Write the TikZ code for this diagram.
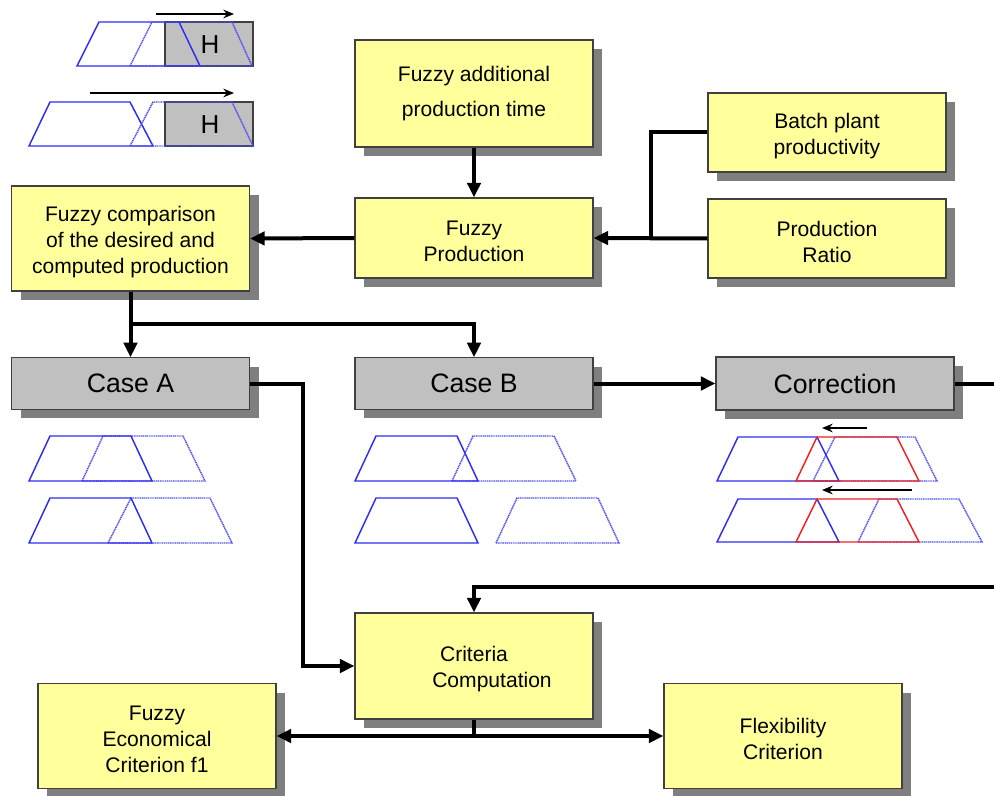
\documentclass[tikz,border=0pt]{standalone}
\usepackage{fontspec}
\setmainfont{Liberation Sans}
\usetikzlibrary{arrows.meta,shadows}
\definecolor{boxyellow}{HTML}{FFFF9C}
\definecolor{boxgray}{HTML}{C0C0C0}
\definecolor{shadowgray}{HTML}{7F7F7F}
\definecolor{edgegray}{HTML}{404040}
\definecolor{tblue}{HTML}{2E2EF0}
\definecolor{tbluedot}{HTML}{4D4DF5}
\definecolor{tred}{HTML}{F02020}
\newcommand{\lowerstrut}{\rule{0pt}{16.5pt}}
\tikzset{
  basebox/.style={rectangle, draw=edgegray, line width=0.8pt, inner sep=0pt,
    minimum width=178.5pt, align=center,
    drop shadow={shadow xshift=6.75pt, shadow yshift=-6.75pt, fill=shadowgray, opacity=1}},
  ybox/.style={basebox, fill=boxyellow, font=\fontsize{15.8}{19.5}\selectfont},
  gbox/.style={basebox, fill=boxgray, minimum height=38.5pt, font=\fontsize{20}{24}\selectfont},
  line/.style={line width=3pt, line join=miter, draw=black},
  conn/.style={line, -{Triangle[length=11pt,width=10pt]}},
  smallarrow/.style={line width=1.5pt, -{Stealth[length=8pt,width=6.5pt]}},
  solidb/.style={draw=tblue, line width=1.1pt, line join=miter},
  dotb/.style={draw=tbluedot, line width=1.1pt, dash pattern=on 0.9pt off 0.5pt},
  solidr/.style={draw=tred, line width=1.1pt, line join=miter},
  hbox/.style={fill=boxgray, draw=edgegray, line width=0.8pt},
}
\begin{document}
\begin{tikzpicture}[x=0.75pt,y=-0.75pt]
\useasboundingbox (0,0) rectangle (994,795);

% ---- boxes ----
\node[ybox, minimum height=80.25pt, font=\fontsize{15.8}{26}\selectfont] (fat) at (474,93.5) {Fuzzy additional\\production time};
\node[ybox, minimum height=60pt] (fp) at (474,238) {\lowerstrut Fuzzy\\Production};
\node[ybox, minimum height=59.25pt] (bpp) at (827,132.5) {\lowerstrut Batch plant\\productivity};
\node[ybox, minimum height=59.25pt] (pr) at (827,238.5) {\lowerstrut Production\\Ratio};
\node[ybox, minimum height=78.75pt] (cmp) at (130.5,238.5) {\lowerstrut Fuzzy comparison\\of the desired and\\computed production};
\node[gbox] (caseA) at (130.5,383.5) {Case A};
\node[gbox] (caseB) at (474,383.5) {Case B};
\node[gbox, minimum height=39.75pt] (corr) at (835,383.5) {Correction};
\node[ybox, minimum height=79.5pt] (crit) at (474,666) {\lowerstrut Criteria\\\hspace*{27pt}Computation};
\node[ybox, minimum height=78.75pt] (fec) at (157,736) {\lowerstrut Fuzzy\\Economical\\Criterion f1};
\node[ybox, minimum height=78.75pt] (flex) at (783,736) {\lowerstrut Flexibility\\Criterion};

% ---- connectors ----
\coordinate (j1) at (651,238.5);
\coordinate (j2) at (130.5,324);
\coordinate (eR) at (994,383.5);
\coordinate (eR2) at (994,587);
\coordinate (j4) at (474,736);

\draw[conn] (fat.south) -- (fp.north);
\draw[line] (bpp.west) -| (j1);
\draw[conn] (pr.west) -- (fp.east);
\draw[conn] (fp.west) -- (cmp.east);
\draw[conn] (cmp.south) -- (caseA.north);
\draw[conn] (j2) -| (caseB.north);
\draw[conn] (caseA.east) -- ++(53,0) |- (crit.west);
\draw[conn] (caseB.east) -- (corr.west);
\draw[line] (corr.east) -- (eR);
\draw[conn] (eR2) -| (crit.north);
\draw[line] (crit.south) -- (j4);
\draw[conn] (j4) -- (fec.east);
\draw[conn] (j4) -- (flex.west);

% ---- top-left shift illustration ----
\draw[hbox] (165,22) rectangle (253,66);
\node[font=\fontsize{19.5}{22}\selectfont] (h1) at (210,45) {H};
\draw[solidb] (77,66) -- (99,22) -- (179,22) -- (200,66) -- cycle;
\draw[dotb] (130,66) -- (152,22) -- (232,22) -- (252,66) -- cycle;
\draw[smallarrow] (156,14) -- (234,14);

\draw[hbox] (165,102) rectangle (253,146);
\node[font=\fontsize{19.5}{22}\selectfont] (h2) at (210,125) {H};
\draw[solidb] (29,146) -- (50,102) -- (130,102) -- (153,146) -- cycle;
\draw[dotb] (130,146) -- (153,102) -- (232,102) -- (253,146) -- cycle;
\draw[smallarrow] (90,93) -- (234,93);

% ---- Case A ----
\draw[dotb] (82,481) -- (103,436) -- (183,436) -- (205,481) -- cycle;
\draw[solidb] (29,481) -- (50,436) -- (131,436) -- (152,481) -- cycle;
\draw[dotb] (108,543) -- (131,498) -- (210,498) -- (232,543) -- cycle;
\draw[solidb] (29,543) -- (50,498) -- (131,498) -- (152,543) -- cycle;

% ---- Case B ----
\draw[dotb] (452,481) -- (473,436) -- (554,436) -- (576,481) -- cycle;
\draw[solidb] (355,481) -- (376,436) -- (457,436) -- (478,481) -- cycle;
\draw[solidb] (355,543) -- (376,498) -- (457,498) -- (478,543) -- cycle;
\draw[dotb] (496,543) -- (517,498) -- (598,498) -- (619,543) -- cycle;

% ---- Correction ----
\draw[dotb] (813,481) -- (835,437) -- (915,437) -- (937,481) -- cycle;
\draw[solidb] (717,481) -- (738,437) -- (817,437) -- (839,481) -- cycle;
\draw[solidr] (796,481) -- (817,437) -- (897,437) -- (919,481) -- cycle;
\draw[smallarrow] (867,428) -- (822,428);

\draw[dotb] (858,542) -- (879,499) -- (959,499) -- (982,542) -- cycle;
\draw[solidb] (717,542) -- (738,499) -- (817,499) -- (839,542) -- cycle;
\draw[solidr] (796,542) -- (817,499) -- (897,499) -- (919,542) -- cycle;
\draw[smallarrow] (912,490) -- (822,490);
\end{tikzpicture}
\end{document}
